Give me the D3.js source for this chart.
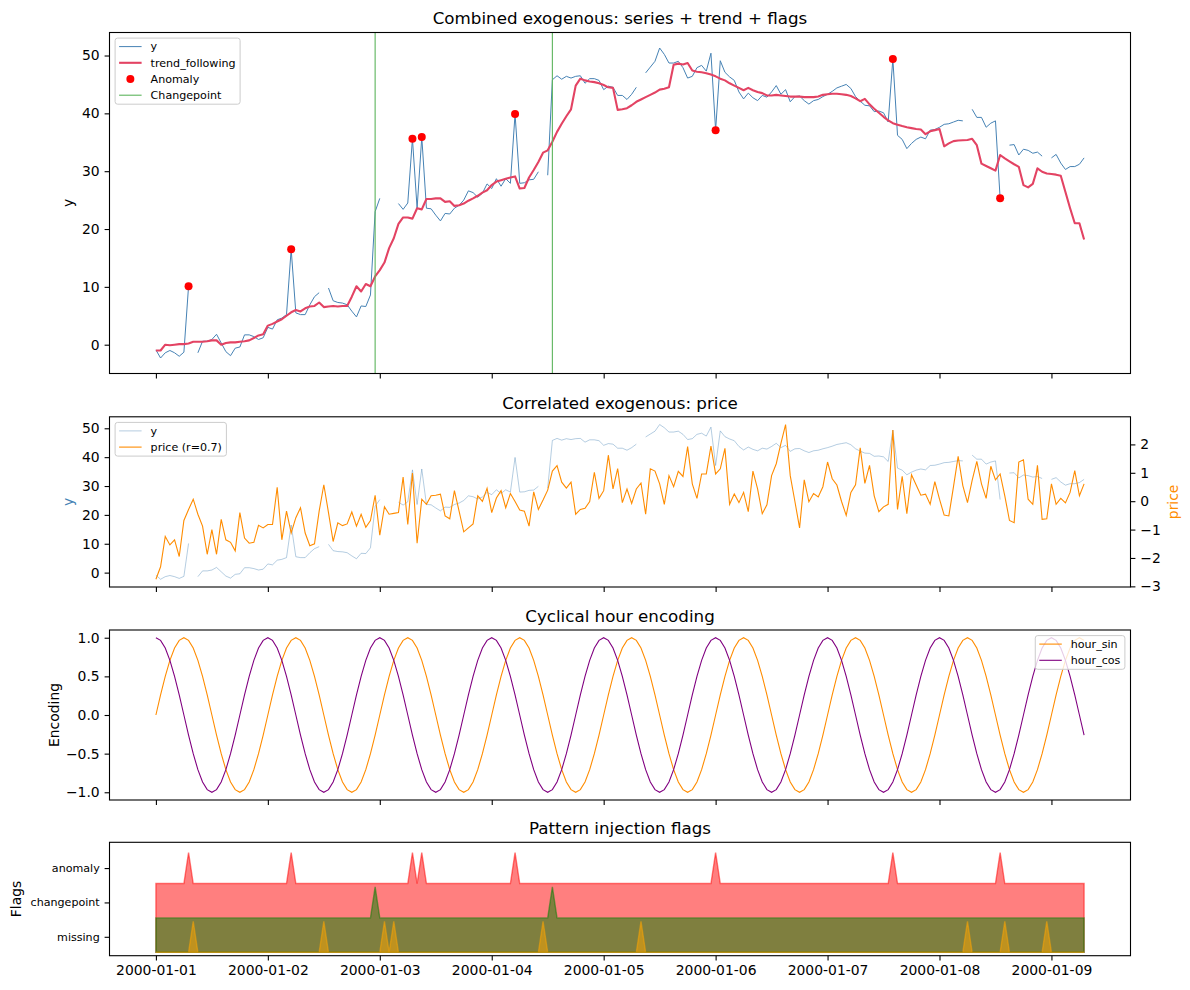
<!DOCTYPE html>
<html>
<head>
<meta charset="utf-8">
<title>Combined exogenous</title>
<script src="https://cdn.jsdelivr.net/npm/d3@7"></script>
<style>
  html, body { margin: 0; background: #fff; }
  svg { display: block; font-family: "DejaVu Sans", sans-serif; }
</style>
</head>
<body>
<svg id="chart" width="1190" height="990"></svg>
<script>
// values, one per hour from 2000-01-01 00:00
const startDate = "2000-01-01T00:00:00Z";
const dayTicks = ["2000-01-01", "2000-01-02", "2000-01-03", "2000-01-04", "2000-01-05",
                  "2000-01-06", "2000-01-07", "2000-01-08", "2000-01-09"];

const yValues = [
  -0.9, -2.3, -1.4, -1.0, -1.4, -2.0, -1.3, 10.1, null, -1.4,
  0.6, 0.6, 0.9, 1.8, 0.3, -1.2, -1.9, -0.6, -0.4, 1.7,
  1.7, 1.4, 0.9, 1.2, 3.0, 2.7, 4.3, 4.6, 5.2, 16.5,
  5.5, 5.2, 5.2, 6.9, 8.3, 9.0, null, 9.8, 7.6, 7.3,
  7.2, 6.9, 5.8, 4.8, 6.7, 6.6, 8.6, 23.0, 25.3, null,
  24.0, null, 24.4, 23.4, 24.5, 35.6, 23.6, 35.9, 23.6, 23.5,
  22.4, 21.4, 22.7, 22.6, 23.6, 24.1, 25.0, 26.6, 26.3, 25.5,
  26.2, 27.8, 27.0, 28.7, 27.4, 28.7, 27.9, 39.9, 27.9, 28.0,
  28.5, 28.6, 29.9, null, 29.3, 45.8, 46.5, 45.9, 46.4, 46.1,
  46.4, 46.5, 45.2, 46.0, 46.0, 45.7, 44.1, 44.7, 44.5, 43.1,
  43.1, 42.4, 43.3, 44.5, null, 47.0, 48.0, 49.0, 51.3, 50.2,
  48.7, 48.7, 49.0, 47.9, 46.1, 46.4, 47.9, 48.3, 47.3, 50.4,
  37.1, 49.1, 47.1, 46.3, 45.7, 43.7, 42.5, 43.5, 42.7, 42.2,
  43.1, 42.8, 43.7, 44.8, 43.3, 44.1, 42.0, 42.9, 43.0, 42.2,
  41.6, 42.2, 42.4, 42.9, 43.3, 43.8, 44.4, 44.7, 45.0, 44.3,
  42.9, 42.1, 41.4, 41.3, 40.3, 40.4, 40.1, 38.5, 49.4, 36.2,
  35.5, 33.9, 34.8, 35.5, 35.9, 35.6, 37.1, 37.2, 37.6, 38.1,
  38.2, 38.5, 38.8, 38.7, null, 40.7, 39.3, 39.3, 37.6, 38.3,
  38.7, 25.3, null, 34.5, 34.6, 32.8, 33.8, 33.6, 33.1, 33.3,
  32.6, null, 32.3, 32.9, 31.4, 30.3, 30.8, 30.8, 31.2, 32.3
];

const trendFollowing = [
  -1.0, -1.0, 0.0, -0.1, 0.0, 0.1, 0.1, 0.2, 0.5, 0.5,
  0.5, 0.6, 0.75, 0.75, 0.0, 0.3, 0.4, 0.4, 0.5, 0.6,
  0.75, 1.15, 1.6, 1.8, 3.3, 3.6, 4.0, 4.4, 5.0, 5.6,
  6.0, 5.75, 6.3, 6.6, 6.7, 7.3, 6.5, 6.6, 6.7, 6.6,
  6.7, 6.7, 8.3, 10.1, 9.2, 10.5, 10.1, 11.8, 12.9, 14.2,
  16.7, 18.4, 20.9, 22.0, 22.0, 21.8, 23.6, 23.4, 25.2, 25.2,
  25.3, 25.3, 24.7, 24.8, 24.0, 24.1, 24.4, 24.9, 25.3, 25.75,
  26.3, 26.7, 27.6, 28.2, 28.45, 28.7, 28.9, 29.1, 27.0, 27.1,
  28.9, 30.2, 31.6, 33.2, 33.6, 35.1, 36.8, 38.2, 39.5, 40.7,
  44.8, 46.0, 45.7, 45.5, 45.4, 45.2, 44.9, 44.5, 44.4, 40.6,
  40.7, 40.9, 41.4, 42.0, 42.4, 42.8, 43.2, 43.6, 44.1, 44.25,
  44.5, 48.4, 48.6, 48.45, 48.7, 47.4, 47.2, 47.1, 46.95, 46.7,
  46.4, 46.0, 45.7, 45.2, 44.8, 44.4, 44.0, 44.4, 44.0, 43.7,
  43.5, 43.1, 43.1, 43.2, 43.1, 43.0, 42.9, 42.9, 42.9, 42.8,
  42.8, 42.8, 42.9, 43.2, 43.3, 43.4, 43.4, 43.3, 43.2, 43.0,
  42.6, 42.1, 42.5, 41.55, 40.8, 40.1, 39.4, 38.8, 38.3, 38.05,
  37.8, 37.6, 37.45, 37.3, 37.2, 36.4, 36.9, 37.1, 37.3, 34.3,
  34.8, 35.2, 35.3, 35.35, 35.4, 35.6, 34.5, 31.3, 30.9, 30.5,
  30.1, 32.8, 32.2, 31.7, 31.2, 30.75, 27.6, 27.2, 27.8, 30.5,
  29.9, 29.6, 29.5, 29.4, 29.2, 26.4, 23.6, 21.0, 21.0, 18.2
];

const price = [
  -2.75, -2.31, -1.24, -1.54, -1.36, -1.95, -0.68, -0.29, 0.07, -0.46,
  -0.88, -1.87, -1.0, -1.87, -0.64, -1.36, -1.45, -1.75, -0.40, -1.30,
  -1.48, -1.45, -0.85, -0.94, -0.82, -0.82, 0.49, -1.36, -0.35, -1.12,
  -0.58, -0.23, -1.12, -1.57, -1.50, -0.35, 0.58, -0.40, -1.42, -0.76,
  -0.86, -0.80, -0.38, -0.88, -0.46, -0.92, -0.68, 0.21, -1.20, -0.20,
  -0.46, -0.43, -0.40, 0.85, -0.82, 0.99, -1.48, 0.07, -0.11, 0.19,
  0.21, 0.25, -0.52, -0.62, 0.37, -0.35, -1.08, -0.94, -0.80, 0.19,
  -0.01, 0.45, -0.40, 0.11, 0.37, -0.23, 0.27, -0.01, -0.31, -0.35,
  -0.88, 0.33, -0.29, 0.04, 0.39, 1.06, 1.25, 0.67, 0.46, 0.67,
  -0.46, -0.29, -0.25, -0.01, 1.02, 0.10, 0.37, 1.62, 0.43, 1.15,
  -0.05, 0.43, -0.08, 0.43, 0.64, -0.46, 1.14, 1.06, 0.61, -0.11,
  0.90, 0.51, 1.05, 0.87, 1.92, 0.61, 0.10, 0.96, 0.96, 1.94,
  0.96, 1.14, 1.86, -0.11, 0.25, -0.05, 0.31, -0.37, 1.06, 0.43,
  -0.44, -0.13, 0.90, 1.32, 2.04, 2.70, 0.90, -0.01, -0.94, 0.75,
  -0.02, 0.27, 0.15, 0.51, 1.38, 0.79, 0.57, -0.01, -0.50, 0.31,
  0.58, 1.88, 0.63, 1.26, 0.19, -0.37, -0.20, -0.11, 2.51, -0.29,
  0.88, -0.44, 0.93, 0.57, 0.21, 0.25, -0.11, 0.69, 0.07, -0.49,
  -0.52, 0.51, 1.58, 0.55, -0.05, 0.73, 1.40, 0.61, 0.10, 1.23,
  0.75, 0.96, 0.19, -0.68, -0.76, 1.38, 1.46, 0.07, -0.11, 1.26,
  -0.64, -0.62, 0.61, -0.11, 0.10, -0.06, 0.31, 1.08, 0.19, 0.61
];

const anomalyHours = [7, 29, 55, 57, 77, 120, 158, 181];
const changepointHours = [47, 85];
const missingHours = [8, 36, 49, 51, 83, 104, 174, 182, 191];

// hour-of-day encoding, one entry per hour 0..23
const hourSin24 = [0.000, 0.259, 0.500, 0.707, 0.866, 0.966, 1.000, 0.966, 0.866, 0.707, 0.500, 0.259,
                   0.000, -0.259, -0.500, -0.707, -0.866, -0.966, -1.000, -0.966, -0.866, -0.707, -0.500, -0.259];
const hourCos24 = [1.000, 0.966, 0.866, 0.707, 0.500, 0.259, 0.000, -0.259, -0.500, -0.707, -0.866, -0.966,
                   -1.000, -0.966, -0.866, -0.707, -0.500, -0.259, 0.000, 0.259, 0.500, 0.707, 0.866, 0.966];

const flagNames = ["missing", "changepoint", "anomaly"];
const titles = ["Combined exogenous: series + trend + flags", "Correlated exogenous: price",
                "Cyclical hour encoding", "Pattern injection flags"];

// layout
const X0 = 109.5, X1 = 1130.5;
const panels = [
  { top: 32.5, h: 341 },
  { top: 416.8, h: 170.2 },
  { top: 630, h: 170 },
  { top: 842.3, h: 113.4 }
];
const FS_TICK = 13.9, FS_TITLE = 16.7, FS_SMALL = 11.1, TICK = 4.9;
const C = {
  y: "#4682b4", trend: "#e34363", anomaly: "#ff0000", cp: "#5cb45c",
  price: "#ff8c00", sin: "#ff8c00", cos: "#800080"
};

const svg = d3.select("#chart");
const defs = svg.append("defs");

const t0 = new Date(startDate);
const times = yValues.map((_, i) => new Date(t0.getTime() + i * 36e5));
const idx = d3.range(times.length);
const dayDates = dayTicks.map(s => new Date(s + "T00:00:00Z"));

// matplotlib-like 5% autoscale margin
const pad5 = ([a, b]) => { const m = (b - a) * 0.05; return [a - m, b + m]; };

const x = d3.scaleUtc().domain(pad5(d3.extent(times).map(Number))).range([X0, X1]);

function makePanel(i) {
  const p = panels[i];
  defs.append("clipPath").attr("id", "clip" + i).append("rect")
    .attr("x", X0).attr("y", p.top).attr("width", X1 - X0).attr("height", p.h);
  const g = svg.append("g");
  const plot = g.append("g").attr("clip-path", `url(#clip${i})`);
  svg.append("text")
    .attr("x", (X0 + X1) / 2).attr("y", p.top - 8.3)
    .attr("text-anchor", "middle").style("font-size", FS_TITLE + "px")
    .text(titles[i]);
  return { p, g, plot };
}

function styleAxis(sel, fs) {
  sel.attr("font-family", null).attr("font-size", null);
  sel.select(".domain").remove();
  sel.selectAll(".tick line").attr("stroke", "#000").attr("stroke-width", 1.1);
  sel.selectAll(".tick text").attr("fill", "#000").style("font-size", fs + "px");
}

function xAxis(P, withLabels) {
  const ax = d3.axisBottom(x).tickValues(dayDates).tickSizeInner(TICK).tickSizeOuter(0).tickPadding(4.9)
    .tickFormat(withLabels ? d3.utcFormat("%Y-%m-%d") : () => "");
  P.g.append("g").attr("transform", `translate(0,${P.p.top + P.p.h})`).call(ax).call(styleAxis, FS_TICK);
}

function yAxis(P, scale, ticks, fmt, side, fs) {
  const ax = (side === "right" ? d3.axisRight(scale) : d3.axisLeft(scale))
    .tickValues(ticks.filter(t => t >= scale.domain()[0] && t <= scale.domain()[1]))
    .tickSizeInner(TICK).tickSizeOuter(0).tickPadding(4.9).tickFormat(fmt);
  P.g.append("g").attr("transform", `translate(${side === "right" ? X1 : X0},0)`)
    .call(ax).call(styleAxis, fs || FS_TICK);
}

function frame(P) {
  P.g.append("rect").attr("x", X0).attr("y", P.p.top)
    .attr("width", X1 - X0).attr("height", P.p.h)
    .attr("fill", "none").attr("stroke", "#000").attr("stroke-width", 1.1);
}

function yLabel(px, py, text, color) {
  svg.append("text").attr("transform", `translate(${px},${py}) rotate(-90)`)
    .attr("text-anchor", "middle").attr("fill", color || "#000")
    .style("font-size", FS_TICK + "px").text(text);
}

function legend(P, items, corner) {
  const step = 16.2, padL = 4, hLen = 22.5, gap = 9, padR = 4.5;
  const lg = P.g.append("g");
  const box = lg.append("rect").attr("rx", 2.5).attr("fill", "#fff").attr("fill-opacity", 0.8)
    .attr("stroke", "#cccccc").attr("stroke-width", 1);
  let textW = 0;
  items.forEach((it, k) => {
    const cy = 8.5 + k * step;
    if (it.dot) {
      lg.append("circle").attr("cx", padL + hLen / 2).attr("cy", cy).attr("r", 4).attr("fill", it.color);
    } else {
      lg.append("line").attr("x1", padL).attr("x2", padL + hLen).attr("y1", cy).attr("y2", cy)
        .attr("stroke", it.color).attr("stroke-width", it.width || 1.1)
        .attr("stroke-opacity", it.opacity == null ? 1 : it.opacity);
    }
    const t = lg.append("text").attr("x", padL + hLen + gap).attr("y", cy).attr("dy", "0.35em")
      .style("font-size", FS_SMALL + "px").text(it.label);
    textW = Math.max(textW, t.node().getComputedTextLength());
  });
  const w = padL + hLen + gap + textW + padR;
  box.attr("width", w).attr("height", 8.5 + (items.length - 1) * step + 9);
  const inset = 5.6;
  const left = corner === "right" ? X1 - inset - w : X0 + inset;
  lg.attr("transform", `translate(${left},${P.p.top + inset})`);
}

function seriesPath(yScale, vals) {
  return d3.line()
    .defined(i => vals[i] != null)
    .x(i => x(times[i]))
    .y(i => yScale(vals[i]))(idx);
}

// ---- panel 1: series + trend + flags ----
{
  const P = makePanel(0);
  const y = d3.scaleLinear().domain(pad5(d3.extent(yValues))).range([P.p.top + P.p.h, P.p.top]);

  P.plot.append("path").attr("d", seriesPath(y, yValues))
    .attr("fill", "none").attr("stroke", C.y).attr("stroke-width", 1.0);
  P.plot.append("path").attr("d", seriesPath(y, trendFollowing))
    .attr("fill", "none").attr("stroke", C.trend).attr("stroke-width", 2.1).attr("stroke-linejoin", "round");
  P.plot.selectAll("circle.anom").data(anomalyHours).join("circle")
    .attr("class", "anom")
    .attr("cx", h => x(times[h])).attr("cy", h => y(yValues[h])).attr("r", 4)
    .attr("fill", C.anomaly);
  P.plot.selectAll("line.cp").data(changepointHours).join("line")
    .attr("class", "cp")
    .attr("x1", h => x(times[h])).attr("x2", h => x(times[h]))
    .attr("y1", P.p.top).attr("y2", P.p.top + P.p.h)
    .attr("stroke", C.cp).attr("stroke-width", 1.1);

  yAxis(P, y, [0, 10, 20, 30, 40, 50], d3.format("d"), "left");
  xAxis(P, false);
  legend(P, [
    { label: "y", color: C.y, width: 1.0 },
    { label: "trend_following", color: C.trend, width: 2.1 },
    { label: "Anomaly", color: C.anomaly, dot: true },
    { label: "Changepoint", color: C.cp }
  ], "left");
  frame(P);
  yLabel(73, P.p.top + P.p.h / 2, "y");
}

// ---- panel 2: y with correlated price on a twin axis ----
{
  const P = makePanel(1);
  const bottom = P.p.top + P.p.h;
  const y = d3.scaleLinear().domain(pad5(d3.extent(yValues))).range([bottom, P.p.top]);
  const yp = d3.scaleLinear().domain(pad5(d3.extent(price))).range([bottom, P.p.top]);

  P.plot.append("path").attr("d", seriesPath(y, yValues))
    .attr("fill", "none").attr("stroke", C.y).attr("stroke-opacity", 0.4).attr("stroke-width", 1.0);
  P.plot.append("path").attr("d", seriesPath(yp, price))
    .attr("fill", "none").attr("stroke", C.price).attr("stroke-width", 1.1);

  yAxis(P, y, [0, 10, 20, 30, 40, 50], d3.format("d"), "left");
  yAxis(P, yp, [-3, -2, -1, 0, 1, 2, 3], d3.format("d"), "right");
  xAxis(P, false);
  legend(P, [
    { label: "y", color: C.y, opacity: 0.4, width: 1.0 },
    { label: "price (r=0.7)", color: C.price }
  ], "left");
  frame(P);
  yLabel(73, P.p.top + P.p.h / 2, "y", C.y);
  yLabel(1178, P.p.top + P.p.h / 2, "price", C.price);
}

// ---- panel 3: cyclical hour encoding ----
{
  const P = makePanel(2);
  const hourSin = times.map(t => hourSin24[t.getUTCHours()]);
  const hourCos = times.map(t => hourCos24[t.getUTCHours()]);
  const y = d3.scaleLinear()
    .domain(pad5([d3.min([...hourSin, ...hourCos]), d3.max([...hourSin, ...hourCos])]))
    .range([P.p.top + P.p.h, P.p.top]);

  P.plot.append("path").attr("d", seriesPath(y, hourSin))
    .attr("fill", "none").attr("stroke", C.sin).attr("stroke-width", 1.1);
  P.plot.append("path").attr("d", seriesPath(y, hourCos))
    .attr("fill", "none").attr("stroke", C.cos).attr("stroke-width", 1.1);

  yAxis(P, y, [-1, -0.5, 0, 0.5, 1], d3.format(".1f"), "left");
  xAxis(P, false);
  legend(P, [
    { label: "hour_sin", color: C.sin },
    { label: "hour_cos", color: C.cos }
  ], "right");
  frame(P);
  yLabel(59, P.p.top + P.p.h / 2, "Encoding");
}

// ---- panel 4: injection flags ----
{
  const P = makePanel(3);
  const y = d3.scaleLinear().domain([-0.1, 3.2]).range([P.p.top + P.p.h, P.p.top]);
  const layers = [
    { name: "anomaly", hours: anomalyHours, color: "#ff0000" },
    { name: "changepoint", hours: changepointHours, color: "#008000" },
    { name: "missing", hours: missingHours, color: "#ffa500" }
  ];
  layers.forEach(L => {
    const on = new Set(L.hours);
    const offset = flagNames.indexOf(L.name);
    const area = d3.area()
      .x(i => x(times[i]))
      .y0(y(0))
      .y1(i => y(offset + (on.has(i) ? 0.9 : 0)));
    P.plot.append("path").attr("d", area(idx))
      .attr("fill", L.color).attr("fill-opacity", 0.5)
      .attr("stroke", L.color).attr("stroke-opacity", 0.5).attr("stroke-width", 1.4);
  });

  yAxis(P, y, flagNames.map((_, k) => k + 0.45), (d, k) => flagNames[k], "left", FS_SMALL);
  xAxis(P, true);
  frame(P);
  yLabel(21, P.p.top + P.p.h / 2, "Flags");
}
</script>
</body>
</html>
